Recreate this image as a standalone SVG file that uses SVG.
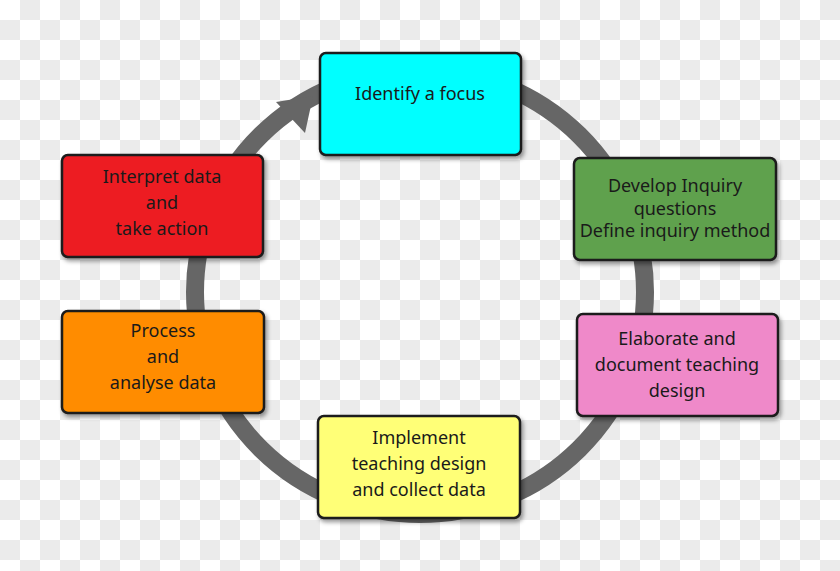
<svg xmlns="http://www.w3.org/2000/svg" width="840" height="571" viewBox="0 0 840 571">
<defs>
<pattern id="chk" width="40" height="40" patternUnits="userSpaceOnUse">
<rect width="40" height="40" fill="#ffffff"/>
<rect x="20" y="0" width="20" height="20" fill="#ebebeb"/>
<rect x="0" y="20" width="20" height="20" fill="#ebebeb"/>
</pattern>
<filter id="sh" x="-10%" y="-10%" width="130%" height="130%">
<feDropShadow dx="2" dy="3" stdDeviation="2" flood-color="#000" flood-opacity="0.4"/>
</filter>
<style>
.b{stroke:#1a1a1a;stroke-width:2.5;filter:url(#sh)}
.t{font-family:"Noto Sans","Liberation Sans",sans-serif;font-size:18px;fill:#1a1a1a;text-anchor:middle}
</style>
</defs>
<rect width="840" height="571" fill="url(#chk)"/>
<g id="connectors">
<ellipse cx="420" cy="292" rx="225" ry="222" fill="none" stroke="#666666" stroke-width="18"/>
<polygon points="276,102 313,96 305,133" fill="#666666"/>
</g>
<g id="n1"><rect class="b" x="320" y="53" width="201" height="102" rx="6" fill="#00ffff"/><text class="t" x="420" y="100">Identify a focus</text></g>
<g id="n2"><rect class="b" x="574" y="158" width="202" height="102" rx="6" fill="#5fa14d"/><text class="t" x="675" y="192" font-size="17">Develop Inquiry</text><text class="t" x="675" y="215" font-size="17">questions</text><text class="t" x="675" y="237" font-size="17">Define inquiry method</text></g>
<g id="n3"><rect class="b" x="577" y="314" width="201" height="102" rx="6" fill="#ef89c9"/><text class="t" x="677" y="345">Elaborate and</text><text class="t" x="677" y="371">document teaching</text><text class="t" x="677" y="397">design</text></g>
<g id="n4"><rect class="b" x="318" y="416" width="202" height="102" rx="6" fill="#ffff77"/><text class="t" x="419" y="444">Implement</text><text class="t" x="419" y="470">teaching design</text><text class="t" x="419" y="496">and collect data</text></g>
<g id="n5"><rect class="b" x="62" y="311" width="202" height="102" rx="6" fill="#ff8c00"/><text class="t" x="163" y="337">Process</text><text class="t" x="163" y="363">and</text><text class="t" x="163" y="389">analyse data</text></g>
<g id="n6"><rect class="b" x="62" y="155" width="201" height="102" rx="6" fill="#ed1c24"/><text class="t" x="162" y="183">Interpret data</text><text class="t" x="162" y="209">and</text><text class="t" x="162" y="235">take action</text></g>
</svg>
